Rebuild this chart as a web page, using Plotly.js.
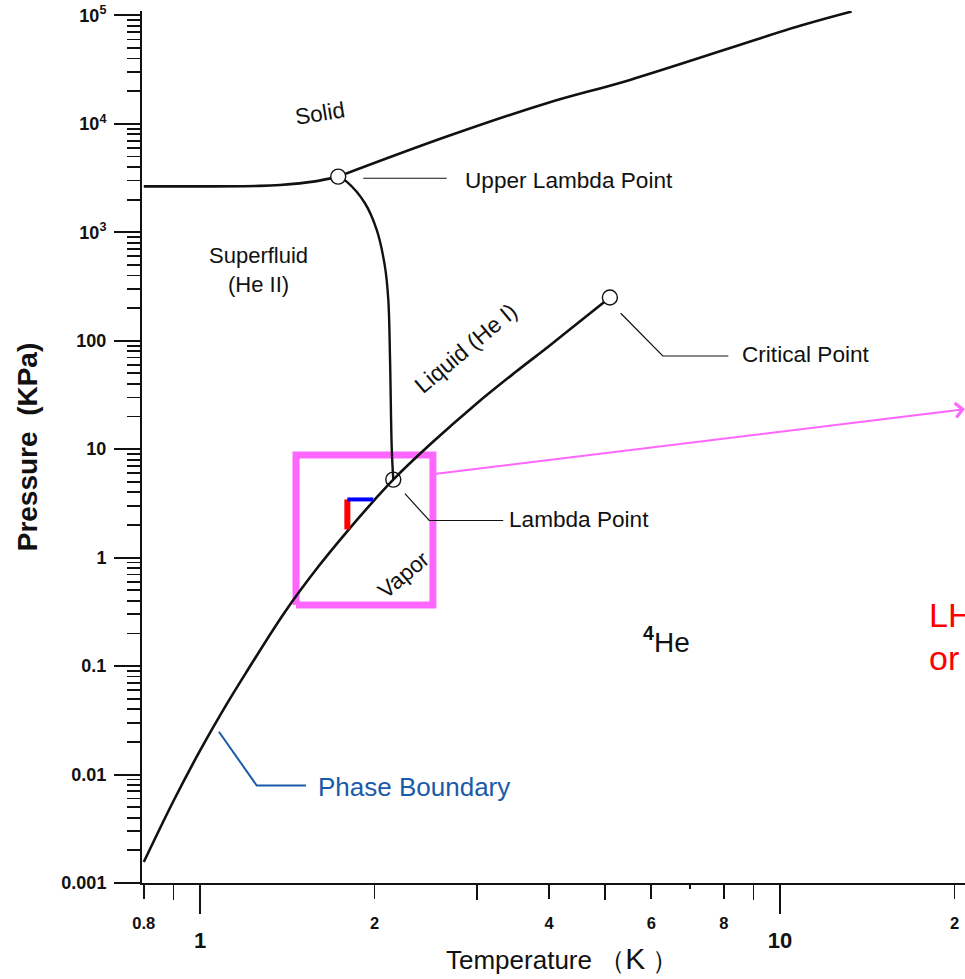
<!DOCTYPE html>
<html><head><meta charset="utf-8">
<script src="https://cdn.plot.ly/plotly-3.0.1.min.js"></script>
<style>html,body{margin:0;padding:0;background:#fff;overflow:hidden}</style>
</head><body>
<div id="chart" style="width:965px;height:979px"></div>
<script>
// ---- data ----
// saturated vapour pressure curve (liquid / vapour boundary), T in K, P in kPa
const vaporT = [0.8, 0.9, 1.0, 1.1, 1.2, 1.4, 1.6, 1.8, 2.0, 2.154, 2.5, 3.0, 3.5, 4.0, 4.5, 5.09];
const vaporP = [0.00156, 0.0057, 0.0166, 0.0405, 0.0865, 0.314, 0.827, 1.785, 3.41, 5.24, 11.2, 26.4, 51.4, 89.5, 148, 250];
// melting curve below the upper lambda point
const meltLowT = [0.8, 1.0, 1.269, 1.374, 1.568, 1.731];
const meltLowP = [2646, 2646, 2674, 2731, 2930, 3258];
// melting curve above the upper lambda point
const meltHighT = [1.731, 2.663, 3.961, 5.513, 10.83, 13.29];
const meltHighP = [3258, 7620, 15490, 25400, 80000, 108400];
// lambda line
const lambdaT = [1.731, 1.79, 1.925, 2.017, 2.084, 2.112, 2.126, 2.141, 2.154];
const lambdaP = [3258, 2930, 1851, 1050, 482, 237, 71.5, 10.15, 5.24];
// special points: upper lambda, lambda, critical
const pointNames = ['Upper Lambda Point', 'Lambda Point', 'Critical Point'];
const pointT = [1.731, 2.154, 5.09];
const pointP = [3258, 5.24, 250];
// leader lines
const upperLeadT = [1.912, 2.663];           const upperLeadP = [3148, 3148];
const critLeadT = [5.313, 6.28, 8.145];      const critLeadP = [179, 72.3, 72.3];
const lamLeadT = [2.256, 2.485, 3.333];      const lamLeadP = [3.89, 2.2, 2.2];
const phaseLeadT = [1.078, 1.2525, 1.523];   const phaseLeadP = [0.0248, 0.00793, 0.00793];
// highlight box, dP / dT marks, pointer arrow
const boxT = [1.464, 2.521, 2.521, 1.464, 1.464];
const boxP = [0.365, 0.365, 8.82, 8.82, 0.365];
const dPT = [1.795, 1.795];  const dPP = [1.82, 3.44];
const dTT = [1.795, 1.99];   const dTP = [3.44, 3.44];
const arrowT = [2.521, 20.84]; const arrowP = [5.89, 23.4];
// axis ticks
const yTickVals = [0.001, 0.01, 0.1, 1, 10, 100, 1000, 10000, 100000];
const yTickText = ['0.001', '0.01', '0.1', '1', '10', '100', '10<sup>3</sup>', '10<sup>4</sup>', '10<sup>5</sup>'];
const xMajorVals = [1, 10];
const xMajorText = ['1', '10'];
const xSmallVals = [0.8, 2, 4, 6, 8, 20];
const xSmallText = ['0.8', '2', '4', '6', '8', '2'];
const xMinorVals = [0.9, 3, 5, 9];
const xTinyVals = [7];

// ---- helpers ----
const L = Math.log10;
const yMinor = [];
for (let e = -3; e < 5; e++) for (let m = 2; m <= 9; m++) yMinor.push(m * Math.pow(10, e));

const FONT = 'Liberation Sans, Arial, Helvetica, sans-serif';
const black = '#111';
const pink = '#ff66ff';

function line(x, y, color, width, shape) {
  return {type: 'scatter', mode: 'lines', x: x, y: y, hoverinfo: 'skip', showlegend: false,
          line: {color: color, width: width, shape: shape || 'linear', smoothing: 1}};
}

const traces = [
  line(boxT, boxP, pink, 7),
  line(vaporT, vaporP, black, 2.6, 'spline'),
  line(meltLowT, meltLowP, black, 2.6, 'spline'),
  line(meltHighT, meltHighP, black, 2.6, 'spline'),
  line(lambdaT, lambdaP, black, 2.4, 'spline'),
  line(upperLeadT, upperLeadP, black, 1.2),
  line(critLeadT, critLeadP, black, 1.2),
  line(lamLeadT, lamLeadP, black, 1.2),
  line(phaseLeadT, phaseLeadP, '#1a5aa8', 2),
  line(dPT, dPP, '#ff0000', 6),
  line(dTT, dTP, '#0000ff', 4),
  {type: 'scatter', mode: 'markers', x: pointT, y: pointP, text: pointNames, hoverinfo: 'text',
   showlegend: false, cliponaxis: false,
   marker: {symbol: 'circle', size: 15, color: ['#fff', 'rgba(255,255,255,0)', '#fff'],
            line: {color: black, width: 1.4}}},
  // invisible traces that anchor the overlay axes
  {type: 'scatter', mode: 'markers', x: [1], y: [1], xaxis: 'x2', yaxis: 'y',
   marker: {opacity: 0}, hoverinfo: 'skip', showlegend: false},
  {type: 'scatter', mode: 'markers', x: [1], y: [1], xaxis: 'x3', yaxis: 'y',
   marker: {opacity: 0}, hoverinfo: 'skip', showlegend: false}
];

const xRange = [-0.1, 1.319];
const layout = {
  width: 965, height: 979,
  margin: {l: 142, r: 0, t: 11.4, b: 96.3},
  paper_bgcolor: '#fff', plot_bgcolor: '#fff',
  font: {family: FONT, color: black},
  showlegend: false,
  xaxis: {
    type: 'log', range: xRange, showgrid: false, zeroline: false,
    showline: true, linecolor: black, linewidth: 2,
    ticks: 'outside', tickmode: 'array', tickvals: xMajorVals, ticktext: xMajorText,
    ticklen: 29, tickwidth: 2, tickcolor: black, ticklabelstandoff: 8,
    tickfont: {family: FONT, size: 22, weight: 700, color: black},
    minor: {ticks: 'outside', tickmode: 'array', tickvals: xMinorVals, ticklen: 15, tickwidth: 1.8, tickcolor: black, showgrid: false}
  },
  xaxis2: {
    type: 'log', range: xRange, overlaying: 'x', anchor: 'y', side: 'bottom',
    showgrid: false, zeroline: false, showline: false,
    ticks: 'outside', tickmode: 'array', tickvals: xSmallVals, ticktext: xSmallText,
    ticklen: 15, tickwidth: 1.8, tickcolor: black, ticklabelstandoff: 10,
    tickfont: {family: FONT, size: 16.5, weight: 700, color: black}
  },
  xaxis3: {
    type: 'log', range: xRange, overlaying: 'x', anchor: 'y', side: 'bottom',
    showgrid: false, zeroline: false, showline: false, showticklabels: false,
    ticks: 'outside', tickmode: 'array', tickvals: xTinyVals,
    ticklen: 5, tickwidth: 1.8, tickcolor: black
  },
  yaxis: {
    type: 'log', range: [-3, 5.04], showgrid: false, zeroline: false,
    showline: true, linecolor: black, linewidth: 2,
    ticks: 'outside', tickmode: 'array', tickvals: yTickVals, ticktext: yTickText,
    ticklen: 26, tickwidth: 2, tickcolor: black, ticklabelstandoff: 4,
    tickfont: {family: FONT, size: 18, weight: 700, color: black},
    minor: {ticks: 'outside', tickmode: 'array', tickvals: yMinor, ticklen: 13, tickwidth: 1.8, tickcolor: black, showgrid: false},
    title: {text: 'Pressure&nbsp;&nbsp;(KPa)', font: {family: FONT, size: 28, weight: 700, color: black}, standoff: 16}
  },
  annotations: [
    {x: L(1.61), y: L(12330), text: 'Solid', textangle: -9, font: {size: 22.5, color: black}},
    {x: L(1.259), y: L(449), text: 'Superfluid<br>(He II)', font: {size: 22, color: black}, align: 'center'},
    {x: L(2.874), y: L(86), text: 'Liquid (He I)', textangle: -40, font: {size: 23, color: black}},
    {x: L(2.247), y: L(0.705), text: 'Vapor', textangle: -40, font: {size: 22.5, color: black}},
    {x: L(2.84), y: L(2972), text: 'Upper Lambda Point', xanchor: 'left', font: {size: 22.6, color: black}},
    {x: L(8.53), y: L(75.4), text: 'Critical Point', xanchor: 'left', font: {size: 22.6, color: black}},
    {x: L(3.383), y: L(2.265), text: 'Lambda Point', xanchor: 'left', font: {size: 22.6, color: black}},
    {x: L(5.76), y: L(0.173), text: '<b><sup>4</sup></b>He', xanchor: 'left', font: {size: 28, color: black}},
    {x: L(1.585), y: L(0.00764), text: 'Phase Boundary', xanchor: 'left', font: {size: 26, color: '#1a5aa8'}},
    {x: L(17.9), y: L(0.295), text: 'LHe', xanchor: 'left', font: {size: 34, color: '#ff0000'}},
    {x: L(17.9), y: L(0.118), text: 'or', xanchor: 'left', font: {size: 34, color: '#ff0000'}},
    {xref: 'paper', yref: 'paper', x: 0.5103, y: -0.0864,
     text: 'Temperature&nbsp;（<span style="font-size:30px">K</span>&nbsp;）',
     font: {size: 26, color: black}},
    {x: L(arrowT[1]), y: L(arrowP[1]), ax: L(arrowT[0]), ay: L(arrowP[0]), axref: 'x', ayref: 'y',
     text: '', showarrow: true, arrowhead: 4, arrowsize: 1.4, arrowwidth: 2, arrowcolor: pink, standoff: 0}
  ].map(a => Object.assign({xref: 'x', yref: 'y', showarrow: false, yanchor: 'middle'}, a,
         {font: Object.assign({family: FONT}, a.font)}))
};

Plotly.newPlot('chart', traces, layout, {displayModeBar: false, staticPlot: true});
</script>
</body></html>
